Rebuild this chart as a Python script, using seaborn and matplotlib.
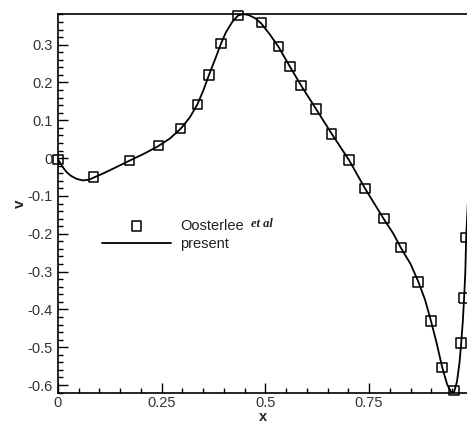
import numpy as np
import pandas as pd
import matplotlib
matplotlib.use("Agg")
import matplotlib.pyplot as plt
import seaborn as sns
from matplotlib.ticker import MultipleLocator, FixedLocator

# Reference data (Oosterlee et al) - squares
ref_x = [0.000, 0.085, 0.172, 0.242, 0.296, 0.336, 0.364, 0.393, 0.434,
         0.490, 0.531, 0.559, 0.586, 0.622, 0.660, 0.702, 0.740, 0.786,
         0.827, 0.868, 0.899, 0.926, 0.955, 0.972, 0.979, 0.984]
ref_v = [-0.003, -0.050, -0.006, 0.033, 0.079, 0.142, 0.220, 0.303, 0.377,
         0.358, 0.295, 0.242, 0.192, 0.130, 0.064, -0.005, -0.080, -0.160,
         -0.237, -0.327, -0.431, -0.553, -0.614, -0.489, -0.370, -0.210]

# Present solution - line
cur_x = [0.000, 0.010, 0.020, 0.030, 0.045, 0.060, 0.075, 0.085, 0.110, 0.140,
         0.172, 0.210, 0.242, 0.270, 0.296, 0.318, 0.336, 0.350, 0.364, 0.380,
         0.393, 0.405, 0.420, 0.434, 0.447, 0.460, 0.475, 0.490, 0.510, 0.531,
         0.559, 0.586, 0.622, 0.660, 0.702, 0.740, 0.786, 0.808, 0.827, 0.850,
         0.868, 0.885, 0.899, 0.913, 0.926, 0.938, 0.948, 0.955, 0.962, 0.968,
         0.972, 0.976, 0.979, 0.982, 0.984, 0.988]
cur_v = [-0.003, -0.022, -0.036, -0.046, -0.055, -0.059, -0.057, -0.052, -0.040, -0.024,
         -0.007, 0.013, 0.032, 0.052, 0.078, 0.108, 0.142, 0.178, 0.220, 0.265,
         0.303, 0.333, 0.360, 0.377, 0.381, 0.378, 0.370, 0.356, 0.328, 0.295,
         0.242, 0.192, 0.130, 0.064, -0.006, -0.080, -0.162, -0.199, -0.238, -0.280,
         -0.325, -0.375, -0.430, -0.490, -0.552, -0.598, -0.619, -0.618, -0.590, -0.540,
         -0.490, -0.430, -0.370, -0.300, -0.210, -0.120]

x_ticks = [0, 0.25, 0.5, 0.75]
x_tick_labels = ["0", "0.25", "0.5", "0.75"]
y_ticks = [-0.6, -0.5, -0.4, -0.3, -0.2, -0.1, 0, 0.1, 0.2, 0.3]
y_tick_labels = ["-0.6", "-0.5", "-0.4", "-0.3", "-0.2", "-0.1", "0", "0.1", "0.2", "0.3"]

sns.set_style("white")
plt.rcParams["font.family"] = ["Liberation Sans", "DejaVu Sans"]

fig = plt.figure(figsize=(4.67, 4.25), dpi=100)
ax = fig.add_axes([58 / 467, 1 - 393 / 425, (467 - 58) / 467, (393 - 14) / 425])

df_cur = pd.DataFrame({"x": cur_x, "v": cur_v})
df_ref = pd.DataFrame({"x": ref_x, "v": ref_v})

sns.lineplot(data=df_cur, x="x", y="v", ax=ax, color="black", linewidth=1.3,
             sort=False, label="present", clip_on=True)
sns.scatterplot(data=df_ref, x="x", y="v", ax=ax, marker="s", s=46,
                facecolors="none", edgecolor="black", linewidth=1.1,
                label="Oosterlee", zorder=3, clip_on=False)

ax.set_xlim(0, 0.986)
ax.set_ylim(-0.621, 0.381)

ax.xaxis.set_major_locator(FixedLocator(x_ticks))
ax.set_xticklabels(x_tick_labels)
ax.xaxis.set_minor_locator(MultipleLocator(0.05))
ax.yaxis.set_major_locator(FixedLocator(y_ticks))
ax.set_yticklabels(y_tick_labels)
ax.yaxis.set_minor_locator(MultipleLocator(0.02))

ax.tick_params(which="major", direction="in", length=7, width=1.0,
               labelsize=10.5, labelcolor="#333333", color="black",
               left=True, bottom=True, pad=4)
ax.tick_params(axis="x", which="major", pad=2.5)
ax.tick_params(which="minor", direction="in", length=3.8, width=1.0,
               left=True, bottom=True, color="black")

for s in ["left", "bottom", "top"]:
    ax.spines[s].set_visible(True)
    ax.spines[s].set_color("black")
    ax.spines[s].set_linewidth(1.2)
ax.spines["right"].set_visible(False)

ax.set_xlabel("x", fontsize=10.5, fontweight="bold", labelpad=0)
ax.set_ylabel("v", fontsize=11, fontweight="bold", labelpad=0)

handles, labels = ax.get_legend_handles_labels()
order = [labels.index("Oosterlee"), labels.index("present")]
leg = ax.legend([handles[i] for i in order], [labels[i] for i in order],
                loc="upper left", bbox_to_anchor=(0.1076, 0.46),
                frameon=False, fontsize=10.5, handlelength=4.7,
                handletextpad=0.65, labelspacing=0.3, borderpad=0,
                borderaxespad=0)
for t in leg.get_texts():
    t.set_color("#222222")

fig.canvas.draw()
bb = leg.get_texts()[0].get_window_extent()
inv = ax.transAxes.inverted()
ax_pos = inv.transform((bb.x1 + 7, (bb.y0 + bb.y1) / 2 + 1.5))
ax.text(ax_pos[0], ax_pos[1], "et al", transform=ax.transAxes,
        va="center", ha="left", fontsize=9, fontstyle="italic",
        fontweight="bold", family=["Liberation Serif", "DejaVu Serif"],
        color="#222222")

fig.savefig("out.png", dpi=100)
